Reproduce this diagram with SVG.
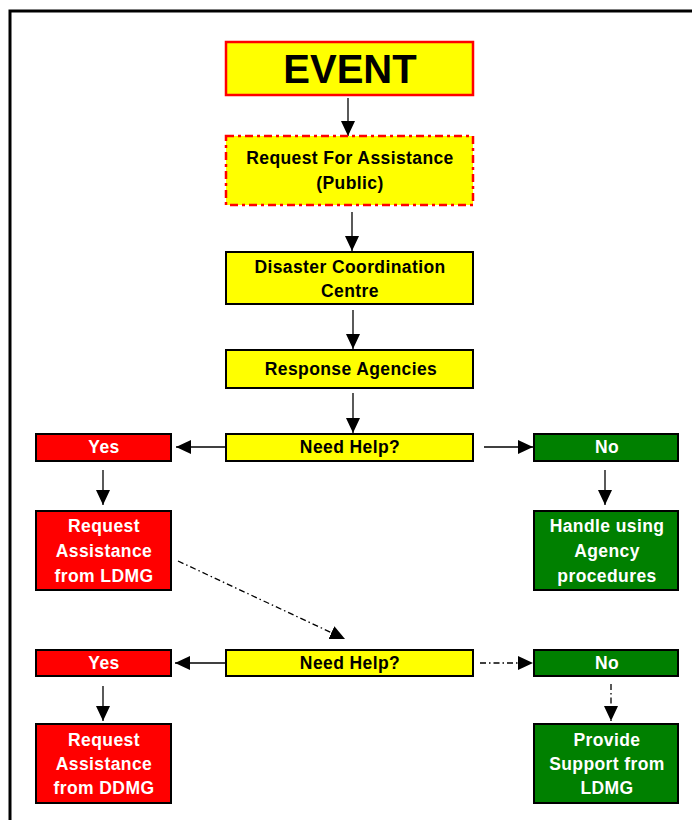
<svg xmlns="http://www.w3.org/2000/svg" width="692" height="820" viewBox="0 0 692 820">
<defs>
<style>
.t{font-family:"Liberation Sans",Arial,sans-serif;font-weight:bold;font-size:17.5px;text-anchor:middle;letter-spacing:0.4px}
.k{fill:#000}
.w{fill:#fff}
.y{fill:#ffff00;stroke:#000;stroke-width:2}
.r{fill:#ff0000;stroke:#000;stroke-width:2}
.g{fill:#008000;stroke:#000;stroke-width:2}
.c{stroke:#000;stroke-width:1.3;fill:none}
.dd{stroke-dasharray:6,3,1.5,3}
</style>
<marker id="ah" markerWidth="15" markerHeight="14" viewBox="0 0 15 14" refX="15" refY="7" orient="auto" markerUnits="userSpaceOnUse">
<path d="M0,0 L15,7 L0,14 Z" fill="#000"/>
</marker>
</defs>
<rect width="692" height="820" fill="#fff"/>
<path d="M10,820 V11 H692" fill="none" stroke="#000" stroke-width="3"/>

<g id="connectors">
<line class="c" x1="348" y1="98" x2="348" y2="136" marker-end="url(#ah)"/>
<line class="c" x1="352" y1="212" x2="352" y2="251" marker-end="url(#ah)"/>
<line class="c" x1="353" y1="310" x2="353" y2="349" marker-end="url(#ah)"/>
<line class="c" x1="353" y1="393" x2="353" y2="433" marker-end="url(#ah)"/>
<line class="c" x1="226" y1="447" x2="176" y2="447" marker-end="url(#ah)"/>
<line class="c" x1="484" y1="447" x2="533" y2="447" marker-end="url(#ah)"/>
<line class="c" x1="103" y1="470" x2="103" y2="505" marker-end="url(#ah)"/>
<line class="c" x1="605" y1="470" x2="605" y2="505" marker-end="url(#ah)"/>
<line class="c dd" x1="178" y1="561" x2="345" y2="639" marker-end="url(#ah)"/>
<line class="c" x1="226" y1="663" x2="175" y2="663" marker-end="url(#ah)"/>
<line class="c dd" x1="480" y1="663" x2="533" y2="663" marker-end="url(#ah)"/>
<line class="c" x1="103" y1="686" x2="103" y2="721" marker-end="url(#ah)"/>
<line class="c dd" x1="611" y1="684" x2="611" y2="721" marker-end="url(#ah)"/>
</g>

<g id="event">
<rect x="226" y="42" width="247" height="53" fill="#ffff00" stroke="#ff0000" stroke-width="2.5"/>
<text class="k" x="350" y="83" style="font-family:'Liberation Sans',Arial,sans-serif;font-weight:bold;font-size:40px;text-anchor:middle">EVENT</text>
</g>
<g id="request-public">
<rect x="226" y="136" width="247" height="69" fill="#ffff00" stroke="#ff0000" stroke-width="2.5" stroke-dasharray="8,4,3,4"/>
<text class="t k" x="350" y="164">Request For Assistance</text>
<text class="t k" x="350" y="189">(Public)</text>
</g>
<g id="dcc">
<rect class="y" x="226" y="252" width="247" height="52"/>
<text class="t k" x="350" y="273">Disaster Coordination</text>
<text class="t k" x="350" y="297">Centre</text>
</g>
<g id="response-agencies">
<rect class="y" x="226" y="350" width="247" height="38"/>
<text class="t k" x="351" y="375">Response Agencies</text>
</g>
<g id="need-help-1">
<rect class="y" x="226" y="434" width="247" height="27"/>
<text class="t k" x="350" y="453">Need Help?</text>
</g>
<g id="yes-1">
<rect class="r" x="36" y="434" width="135" height="27"/>
<text class="t w" x="104" y="453">Yes</text>
</g>
<g id="no-1">
<rect class="g" x="534" y="434" width="144" height="27"/>
<text class="t w" x="607" y="453">No</text>
</g>
<g id="request-ldmg">
<rect class="r" x="36" y="511" width="135" height="79"/>
<text class="t w" x="104" y="532">Request</text>
<text class="t w" x="104" y="557">Assistance</text>
<text class="t w" x="104" y="582">from LDMG</text>
</g>
<g id="handle-agency">
<rect class="g" x="534" y="511" width="144" height="79"/>
<text class="t w" x="607" y="532">Handle using</text>
<text class="t w" x="607" y="557">Agency</text>
<text class="t w" x="607" y="582">procedures</text>
</g>
<g id="need-help-2">
<rect class="y" x="226" y="650" width="247" height="26"/>
<text class="t k" x="350" y="669">Need Help?</text>
</g>
<g id="yes-2">
<rect class="r" x="36" y="650" width="135" height="26"/>
<text class="t w" x="104" y="669">Yes</text>
</g>
<g id="no-2">
<rect class="g" x="534" y="650" width="144" height="26"/>
<text class="t w" x="607" y="669">No</text>
</g>
<g id="request-ddmg">
<rect class="r" x="36" y="724" width="135" height="79"/>
<text class="t w" x="104" y="746">Request</text>
<text class="t w" x="104" y="770">Assistance</text>
<text class="t w" x="104" y="794">from DDMG</text>
</g>
<g id="provide-support">
<rect class="g" x="534" y="724" width="144" height="79"/>
<text class="t w" x="607" y="746">Provide</text>
<text class="t w" x="607" y="770">Support from</text>
<text class="t w" x="607" y="794">LDMG</text>
</g>
</svg>
